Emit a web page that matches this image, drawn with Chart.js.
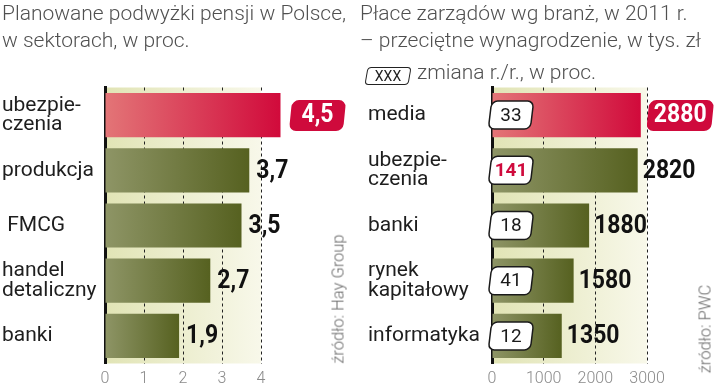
<!DOCTYPE html>
<html>
<head>
<meta charset="utf-8">
<script src="https://cdn.jsdelivr.net/npm/chart.js@4.4.1/dist/chart.umd.min.js"></script>
<style>
  body { margin: 0; background: #fff; }
  #wrap { position: relative; width: 720px; height: 386px; overflow: hidden; background: #fff; font-family: Roboto, sans-serif; }
  canvas { position: absolute; top: 0; }
  .title { position: absolute; font-weight: 300; font-size: 21px; line-height: 27px; color: #505050; white-space: nowrap; }
  .src { position: absolute; font-weight: 300; font-size: 16.5px; color: #6a6a6a; white-space: nowrap; transform: translate(-50%, -50%) rotate(-90deg); }
  .legend { position: absolute; left: 366px; top: 59px; font-weight: 300; font-size: 21px; line-height: 27px; color: #505050; white-space: nowrap; }
  .legend .key { position: relative; isolation: isolate; display: inline-block; width: 44px; height: 18px; margin-right: 7px; vertical-align: -2px; font-weight: 400; font-size: 14px; line-height: 18px; color: #222; text-align: center; }
  .legend .key::before { content: ""; position: absolute; inset: 0; border: 1.5px solid #222; border-radius: 4px; transform: skewX(-10deg); background: #fff; z-index: -1; }
</style>
</head>
<body>
<div id="wrap">
  <canvas id="leftChart" width="360" height="386" style="left:0"></canvas>
  <canvas id="rightChart" width="360" height="386" style="left:360px"></canvas>
  <div class="title" style="left:2px;top:0">Planowane podwyżki pensji w Polsce,<br>w sektorach, w proc.</div>
  <div class="title" style="left:360px;top:0">Płace zarządów wg branż, w 2011 r.<br>– przeciętne wynagrodzenie, w tys. zł</div>
  <div class="legend"><span class="key">XXX</span>zmiana r./r., w proc.</div>
  <div class="src" style="left:338px;top:299px">źródło: Hay Group</div>
  <div class="src" style="left:705px;top:329px">źródło: PWC</div>
</div>
<script>
const leftCategories = [["ubezpie-", "czenia"], "produkcja", " FMCG", ["handel", "detaliczny"], "banki"];
const leftValues = [4.5, 3.7, 3.5, 2.7, 1.9];
const leftTicks = [0, 1, 2, 3, 4];

const rightCategories = ["media", ["ubezpie-", "czenia"], "banki", ["rynek", "kapitałowy"], "informatyka"];
const rightValues = [2880, 2820, 1880, 1580, 1350];
const rightChanges = [33, 141, 18, 41, 12];
const rightTicks = [0, 1000, 2000, 3000];

const RED = "#cf0a3c";
const NARROW = 0.92;

function skewedBox(ctx, x, y, w, h, r, skew, fill, stroke) {
    ctx.save();
    const cy = y + h / 2;
    ctx.transform(1, 0, -skew, 1, skew * cy, 0);
    ctx.beginPath();
    ctx.roundRect(x, y, w, h, r);
    ctx.fillStyle = fill;
    ctx.fill();
    if (stroke) {
        ctx.lineWidth = 1.5;
        ctx.strokeStyle = stroke;
        ctx.stroke();
    }
    ctx.restore();
}

// condensed text: the reference uses a narrow bold face
function narrowText(ctx, text, x, y) {
    ctx.save();
    ctx.translate(x, y);
    ctx.scale(NARROW, 1);
    ctx.fillText(text, 0, 0);
    ctx.restore();
}

function barColor(ctx) {
    const chart = ctx.chart;
    const area = chart.chartArea;
    if (!area) return "#6b7433";
    const x1 = chart.scales.x.getPixelForValue(ctx.raw);
    const g = chart.ctx.createLinearGradient(area.left, 0, x1, 0);
    if (ctx.dataIndex === 0) {
        g.addColorStop(0, "#e37577");
        g.addColorStop(1, "#d10a3b");
    } else {
        g.addColorStop(0, "#8e9566");
        g.addColorStop(1, "#566120");
    }
    return g;
}

const bgPlugin = {
    id: "bgFill",
    beforeDraw(chart) {
        const { ctx, chartArea: a } = chart;
        const g = ctx.createLinearGradient(a.left, 0, a.right, 0);
        g.addColorStop(0, "#e1e4b5");
        g.addColorStop(1, "#f8f8ea");
        ctx.save();
        ctx.fillStyle = g;
        ctx.fillRect(a.left, a.top, a.right - a.left, a.bottom - a.top);
        ctx.restore();
    }
};

function makeChart(id, cfg) {
    const labelPlugin = {
        id: "valueLabels",
        afterDraw(chart) {
            const ctx = chart.ctx;
            const meta = chart.getDatasetMeta(0);
            ctx.save();
            ctx.textBaseline = "middle";
            ctx.textAlign = "left";
            meta.data.forEach((bar, i) => {
                const text = cfg.format(cfg.values[i]);
                ctx.font = "700 25px Roboto";
                if (i === 0) {
                    const tw = ctx.measureText(text).width * NARROW;
                    const bx = bar.x + cfg.badgeGap;
                    const bw = tw + cfg.badgePad * 2;
                    skewedBox(ctx, bx, bar.y - 15, bw, 31, 7, 0.1, RED);
                    ctx.fillStyle = "#fff";
                    narrowText(ctx, text, bx + cfg.badgePad, bar.y + 1);
                } else {
                    ctx.fillStyle = "#111";
                    narrowText(ctx, text, bar.x + cfg.gap, bar.y + 1);
                }
                if (cfg.changes) {
                    const left = chart.chartArea.left;
                    skewedBox(ctx, left - 2, bar.y - 14, 42, 28, 6, 0.12, "#fff", "#1a1a1a");
                    ctx.save();
                    ctx.textAlign = "center";
                    ctx.font = i === 1 ? "700 19px Roboto" : "400 19px Roboto";
                    ctx.fillStyle = i === 1 ? RED : "#1a1a1a";
                    ctx.fillText(String(cfg.changes[i]), left + 19, bar.y + 1);
                    ctx.restore();
                }
            });
            ctx.restore();
        }
    };

    return new Chart(document.getElementById(id), {
        type: "bar",
        data: {
            labels: cfg.categories,
            datasets: [{
                data: cfg.values,
                backgroundColor: barColor,
                borderWidth: 0,
                barPercentage: 1,
                categoryPercentage: 0.8,
                clip: false
            }]
        },
        options: {
            indexAxis: "y",
            responsive: false,
            animation: false,
            devicePixelRatio: 1,
            layout: { padding: { left: cfg.padLeft, right: cfg.padRight, top: 87.5, bottom: 0 } },
            plugins: { legend: { display: false }, tooltip: { enabled: false } },
            scales: {
                x: {
                    min: 0,
                    max: cfg.max,
                    z: 1,
                    afterBuildTicks: scale => { scale.ticks = cfg.ticks.map(v => ({ value: v })); },
                    afterFit: scale => { scale.height = 22.5; },
                    ticks: {
                        color: "#8a8a8a",
                        padding: 6,
                        font: { family: "Roboto", weight: 300, size: 16 },
                        callback: v => String(v)
                    },
                    grid: {
                        drawTicks: false,
                        lineWidth: 1,
                        color: ctx => (ctx.tick && ctx.tick.value === 0) ? "rgba(0,0,0,0)" : "#222"
                    },
                    border: { display: false, dash: [3, 3] }
                },
                y: {
                    z: 1,
                    afterFit: scale => { scale.width = cfg.axisWidth; },
                    ticks: {
                        crossAlign: "far",
                        padding: 0,
                        color: "#1e1e1e",
                        font: { family: "Roboto", weight: 400, size: 21, lineHeight: 0.92 }
                    },
                    grid: { display: false },
                    border: { display: true, color: "#111", width: 3 }
                }
            }
        },
        plugins: [bgPlugin, labelPlugin]
    });
}

makeChart("leftChart", {
    categories: leftCategories,
    values: leftValues,
    ticks: leftTicks,
    max: 4,
    padLeft: 2,
    padRight: 99,
    axisWidth: 103,
    gap: 7,
    badgeGap: 10,
    badgePad: 11,
    format: v => v.toFixed(1).replace(".", ",")
});

makeChart("rightChart", {
    categories: rightCategories,
    values: rightValues,
    changes: rightChanges,
    ticks: rightTicks,
    max: 3000,
    padLeft: 8,
    padRight: 73,
    axisWidth: 124,
    gap: 5,
    badgeGap: 7,
    badgePad: 6,
    format: v => String(v)
});
</script>
</body>
</html>
